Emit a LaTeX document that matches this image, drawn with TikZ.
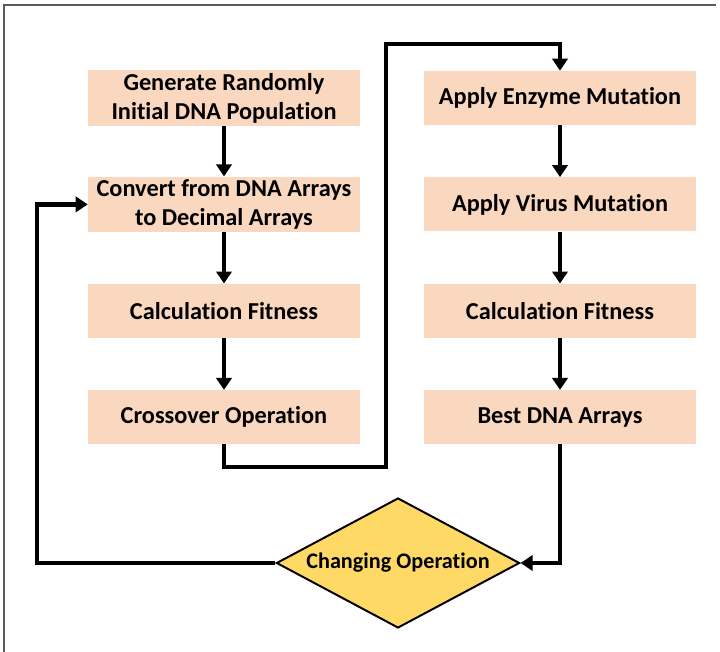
\documentclass[tikz,border=0pt]{standalone}
\usepackage{fontspec}
\setmainfont[RawFeature={-liga;-calt;-clig}]{Carlito}
\definecolor{peach}{RGB}{250,216,192}
\definecolor{gold}{RGB}{255,217,102}
\definecolor{frame}{RGB}{90,90,90}
\usetikzlibrary{arrows.meta,shapes.geometric,positioning}
\tikzset{
  stage/.style={fill=peach, minimum width=6.8cm, minimum height=1.35cm,
              inner sep=2pt, align=center, font=\bfseries\fontsize{17.3}{20.6}\selectfont},
  decide/.style={diamond, aspect=1.87, draw=black, line width=1.4pt, fill=gold, inner sep=0pt,
              minimum width=6.08cm, minimum height=3.25cm,
              font=\bfseries\fontsize{15.8}{19}\selectfont},
  flow/.style={-{Triangle[length=3mm,width=3.8mm]}, line width=3.5pt},
}
\begin{document}
\begin{tikzpicture}
    \useasboundingbox (0,0) rectangle (18,16.3);
    \draw[frame, line width=1pt] (0.1,0) -- (0.1,16.175) -- (17.9,16.175);
    % left column
    \node[stage] (gen) at (5.6,13.85) {Generate Randomly\\Initial DNA Population};
    \node[stage] (conv) at (5.6,11.19) {Convert from DNA Arrays\\to Decimal Arrays};
    \node[stage] (fit1) at (5.6,8.53) {Calculation Fitness};
    \node[stage] (cross) at (5.6,5.87) {Crossover Operation};
    % right column
    \node[stage] (enz) at (14.0,13.85) {Apply Enzyme Mutation};
    \node[stage] (vir) at (14.0,11.19) {Apply Virus Mutation};
    \node[stage] (fit2) at (14.0,8.53) {Calculation Fitness};
    \node[stage] (best) at (14.0,5.87) {Best DNA Arrays};
    \node[decide] (chg) at (9.95,2.225) {Changing Operation};
    \coordinate (low) at (9.65,4.625);
    \coordinate (high) at (9.65,15.2);
    \coordinate (back) at (0.925,11.19);
    \draw[flow] (gen) -- (conv);
    \draw[flow] (conv) -- (fit1);
    \draw[flow] (fit1) -- (cross);
    \draw[flow] (cross.south) |- (low) -- (high) -| (enz.north);
    \draw[flow] (enz) -- (vir);
    \draw[flow] (vir) -- (fit2);
    \draw[flow] (fit2) -- (best);
    \draw[flow] (best.south) |- (chg.east);
    \draw[flow] (chg.west) -| (back) -- (conv.west);
  \end{tikzpicture}
\end{document}
